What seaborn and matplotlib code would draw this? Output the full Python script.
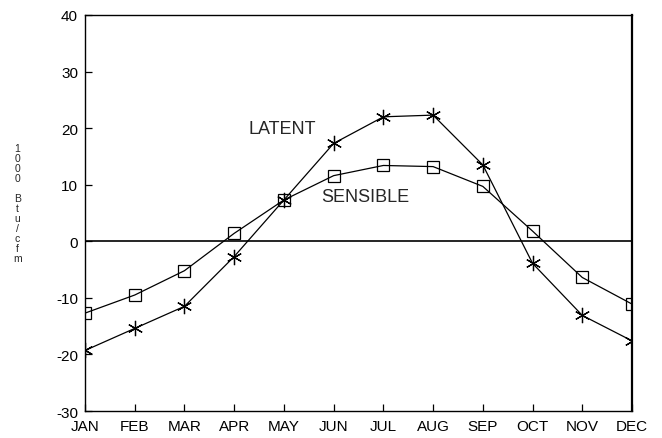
import numpy as np
import pandas as pd
import matplotlib
matplotlib.use("Agg")
import matplotlib.pyplot as plt
import seaborn as sns

# -----------------------------
# Data
# -----------------------------
months = ["JAN", "FEB", "MAR", "APR", "MAY", "JUN",
          "JUL", "AUG", "SEP", "OCT", "NOV", "DEC"]
sensible = [-12.7, -9.5, -5.2, 1.4, 7.3, 11.6, 13.4, 13.2, 9.7, 1.8, -6.4, -11.1]
latent = [-19.3, -15.4, -11.5, -2.7, 7.3, 17.3, 22.0, 22.3, 13.5, -3.9, -13.1, -17.6]
y_ticks = [-30, -20, -10, 0, 10, 20, 30, 40]

df = pd.DataFrame({"month": np.arange(len(months)),
                   "sensible": sensible,
                   "latent": latent})

# -----------------------------
# Style
# -----------------------------
sns.set_style("ticks")
plt.rcParams["font.family"] = ["Liberation Sans", "DejaVu Sans"]
plt.rcParams["axes.unicode_minus"] = False

fig = plt.figure(figsize=(6.62, 4.39), dpi=100)
ax = fig.add_axes([0.1284, 0.0615, 0.8263, 0.9021])

sns.lineplot(data=df, x="month", y="sensible", ax=ax, color="black",
             linewidth=0.9, marker="s", markersize=8,
             markerfacecolor="none", markeredgecolor="black",
             markeredgewidth=0.9)
sns.lineplot(data=df, x="month", y="latent", ax=ax, color="black",
             linewidth=0.9, marker=(6, 2, 0), markersize=11,
             markeredgecolor="black", markeredgewidth=0.9)

ax.axhline(0, color="black", linewidth=1.2, zorder=1)

ax.set_xlim(0, len(months) - 1)
ax.set_ylim(-30, 40)
ax.set_xticks(df["month"])
ax.set_xticklabels(months)
ax.set_yticks(y_ticks)
ax.set_xlabel("")
ax.set_ylabel("")
ax.tick_params(direction="in", length=5, width=0.9, labelsize=11,
               colors="black")
ax.tick_params(axis="x", pad=6)
ax.tick_params(axis="y", pad=5)

for side in ["left", "right", "top", "bottom"]:
    ax.spines[side].set_visible(True)
    ax.spines[side].set_color("black")
ax.spines["left"].set_linewidth(1.0)
ax.spines["bottom"].set_linewidth(1.0)
ax.spines["top"].set_linewidth(1.0)
ax.spines["right"].set_linewidth(1.6)

ax.text(3.96, 20.0, "LATENT", fontsize=13, ha="center", va="center")
ax.text(5.63, 7.9, "SENSIBLE", fontsize=13, ha="center", va="center")

fig.text(0.026, 0.535, "\n".join("1000 Btu/cfm"), fontsize=7.5,
         ha="center", va="center", linespacing=1.0)

fig.savefig("out.png", dpi=100)
plt.close(fig)
